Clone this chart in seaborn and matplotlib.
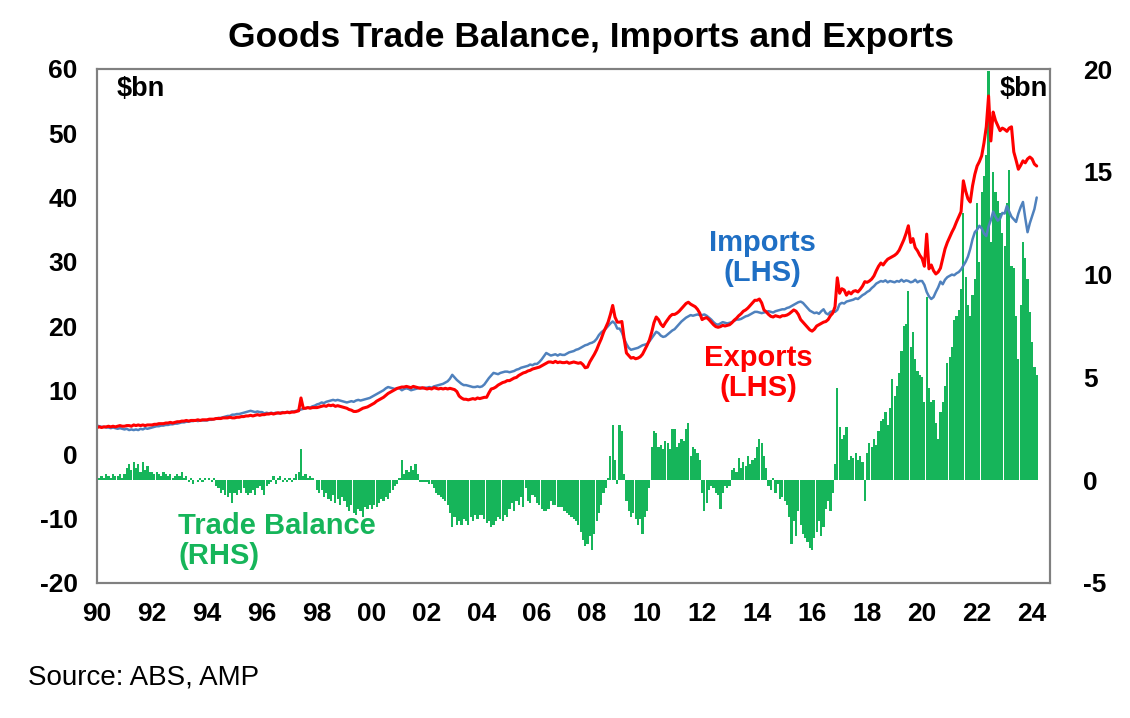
import matplotlib
matplotlib.use("Agg")
import matplotlib.pyplot as plt
import numpy as np
import pandas as pd
import seaborn as sns

# monthly data, Jan 1990 - Mar 2024, $bn
exports = [
    4.2, 4.3, 4.2, 4.3, 4.3, 4.4, 4.3, 4.4, 4.3, 4.4, 4.5, 4.4,
    4.4, 4.5, 4.5, 4.4, 4.6, 4.5, 4.6, 4.5, 4.6, 4.5, 4.6, 4.6,
    4.6, 4.7, 4.7, 4.8, 4.8, 4.8, 4.9, 4.9, 5.0, 4.9, 5.0, 5.1,
    5.1, 5.2, 5.2, 5.3, 5.2, 5.3, 5.3, 5.3, 5.4, 5.3, 5.4, 5.4,
    5.4, 5.5, 5.5, 5.5, 5.6, 5.6, 5.6, 5.7, 5.7, 5.7, 5.8, 5.7,
    5.7, 5.8, 5.8, 5.9, 5.9, 6.0, 6.0, 6.1, 6.0, 6.1, 6.2, 6.1,
    6.2, 6.2, 6.3, 6.3, 6.4, 6.3, 6.4, 6.5, 6.4, 6.5, 6.5, 6.6,
    6.5, 6.6, 6.6, 6.7, 6.8, 8.8, 7.2, 7.2, 7.3, 7.2, 7.3, 7.3,
    7.3, 7.4, 7.5, 7.6, 7.5, 7.7, 7.6, 7.7, 7.5, 7.6, 7.5, 7.4,
    7.3, 7.2, 7.0, 6.9, 6.7, 6.7, 6.8, 7.0, 7.2, 7.3, 7.4, 7.6,
    7.8, 8.0, 8.3, 8.5, 8.7, 8.9, 9.2, 9.5, 9.7, 9.9, 10.1, 10.3,
    10.4, 10.5, 10.5, 10.6, 10.5, 10.4, 10.6, 10.5, 10.4, 10.3, 10.4, 10.3,
    10.2, 10.3, 10.2, 10.4, 10.3, 10.2, 10.3, 10.2, 10.3, 10.2, 10.3, 10.2,
    10.1, 9.8, 9.1, 8.8, 8.6, 8.6, 8.5, 8.6, 8.7, 8.6, 8.8, 8.7,
    8.8, 8.9, 8.9, 9.6, 10.2, 10.3, 10.5, 10.8, 11.0, 11.2, 11.3, 11.5,
    11.5, 11.7, 11.9, 12.0, 12.3, 12.5, 12.7, 12.8, 13.0, 13.1, 13.3, 13.4,
    13.5, 13.6, 13.8, 14.0, 14.2, 14.4, 14.4, 14.3, 14.5, 14.3, 14.4, 14.3,
    14.3, 14.4, 14.2, 14.3, 14.4, 14.3, 14.2, 14.3, 14.0, 13.5, 13.6, 14.4,
    15.0, 15.6, 16.3, 17.2, 18.0, 19.0, 19.8, 20.6, 21.8, 23.2, 21.4, 20.6,
    20.6, 20.7, 18.0, 15.8, 15.4, 15.0, 15.1, 14.9, 15.0, 15.2, 15.6, 16.3,
    17.0, 17.8, 19.0, 20.5, 21.4, 21.0, 20.3, 19.9, 20.5, 21.0, 21.5, 21.8,
    21.8, 22.0, 22.3, 22.7, 23.1, 23.5, 23.7, 23.4, 23.2, 23.0, 22.6, 22.0,
    21.0, 21.2, 21.3, 21.0, 20.6, 20.2, 19.9, 19.8, 19.9, 20.1, 20.0, 20.1,
    20.2, 20.5, 20.9, 21.2, 21.6, 21.9, 22.3, 22.5, 22.8, 23.2, 23.6, 24.0,
    24.0, 24.2, 23.6, 22.5, 22.2, 21.8, 21.5, 21.4, 21.6, 21.5, 21.4, 21.6,
    21.6, 21.7, 21.9, 22.2, 22.5, 22.3, 21.8, 21.0, 20.6, 20.2, 19.8, 19.4,
    19.2, 19.5, 20.0, 20.2, 20.4, 20.6, 20.7, 21.0, 21.6, 22.0, 23.0, 27.5,
    25.1, 25.8, 25.6, 24.8, 25.3, 25.0, 25.4, 25.5, 25.3, 25.7, 26.2, 26.9,
    26.8, 27.0, 27.3, 27.8, 28.6, 29.3, 29.8, 29.5, 30.0, 30.4, 30.6, 30.8,
    31.0, 31.3, 31.8, 32.6, 33.4, 34.4, 35.6, 33.0, 33.6, 32.2, 31.7, 31.0,
    30.5, 29.3, 34.3, 28.9, 29.5, 28.6, 28.1, 28.4, 29.0, 30.5, 32.0, 33.0,
    33.8, 34.6, 35.3, 36.2, 37.0, 37.8, 42.6, 41.0, 39.8, 39.3, 41.8, 43.6,
    44.9, 45.6, 46.5, 48.5, 51.0, 55.8, 48.8, 53.3, 52.0, 51.2, 50.4, 50.8,
    50.6, 50.3, 50.8, 51.0, 47.1, 45.8, 44.4, 45.0, 45.7, 45.4, 46.0, 46.3,
    46.0, 45.2, 44.9,
]

imports = [
    4.5, 4.4, 4.3, 4.3, 4.2, 4.2, 4.1, 4.2, 4.1, 4.0, 4.1, 4.0,
    3.9, 4.0, 3.8, 3.9, 3.8, 3.9, 3.8, 4.0, 3.9, 4.1, 4.0, 4.1,
    4.2, 4.3, 4.4, 4.4, 4.5, 4.5, 4.6, 4.6, 4.7, 4.7, 4.8, 4.8,
    4.9, 5.0, 5.0, 5.1, 5.1, 5.2, 5.2, 5.3, 5.2, 5.3, 5.3, 5.3,
    5.3, 5.4, 5.4, 5.5, 5.6, 5.7, 5.7, 5.8, 5.9, 6.0, 6.0, 6.2,
    6.2, 6.3, 6.3, 6.4, 6.5, 6.6, 6.7, 6.8, 6.7, 6.6, 6.7, 6.6,
    6.6, 6.4, 6.5, 6.4, 6.5, 6.4, 6.5, 6.4, 6.5, 6.6, 6.5, 6.6,
    6.6, 6.7, 6.7, 6.8, 6.9, 7.0, 7.1, 7.2, 7.3, 7.3, 7.5, 7.6,
    7.8, 7.9, 8.1, 8.0, 8.2, 8.3, 8.4, 8.5, 8.4, 8.5, 8.4, 8.3,
    8.2, 8.1, 8.2, 8.3, 8.2, 8.4, 8.5, 8.4, 8.5, 8.6, 8.7, 8.8,
    9.0, 9.2, 9.4, 9.6, 9.8, 10.0, 10.3, 10.5, 10.4, 10.3, 10.2, 10.3,
    10.3, 10.0, 10.2, 10.3, 10.2, 10.0, 10.1, 10.2, 10.3, 10.4, 10.3, 10.4,
    10.4, 10.5, 10.4, 10.6, 10.7, 10.8, 10.9, 11.0, 11.2, 11.4, 11.8, 12.4,
    12.0, 11.6, 11.3, 11.0, 10.8, 10.8, 10.7, 10.6, 10.5, 10.5, 10.6, 10.5,
    10.6, 10.9, 11.4, 11.9, 12.3, 12.7, 12.6, 12.5, 12.7, 12.8, 12.9, 12.9,
    12.8, 12.9, 13.0, 13.2, 13.3, 13.5, 13.6, 13.7, 13.8, 14.0, 13.9, 14.1,
    14.1, 14.4, 14.8, 15.3, 15.8, 15.6, 15.4, 15.5, 15.6, 15.4, 15.6, 15.5,
    15.5, 15.7, 15.9, 16.0, 16.1, 16.3, 16.4, 16.6, 16.8, 17.0, 17.1, 17.3,
    17.4, 17.6, 18.0, 18.6, 19.0, 19.3, 19.6, 20.0, 20.4, 20.7, 20.4, 19.6,
    19.6, 19.0, 18.0, 17.2, 16.6, 16.3, 16.4, 16.5, 16.6, 16.8, 17.0, 17.1,
    17.2, 17.6, 18.1, 18.6, 19.1, 18.9, 18.5, 18.3, 18.4, 18.7, 19.0, 19.3,
    19.5, 19.9, 20.3, 20.7, 21.0, 21.3, 21.5, 21.7, 21.6, 21.7, 21.8, 21.7,
    21.7, 21.8, 21.6, 21.3, 21.0, 20.6, 20.3, 20.2, 20.4, 20.6, 20.5, 20.4,
    20.5, 20.6, 20.8, 21.0, 21.0, 21.1, 21.3, 21.5, 21.6, 21.8, 22.0, 22.2,
    22.2, 22.1, 22.0, 22.1, 22.2, 22.3, 22.2, 22.1, 22.3, 22.4, 22.5, 22.6,
    22.6, 22.8, 22.9, 23.1, 23.3, 23.5, 23.7, 23.8, 23.6, 23.2, 22.8, 22.4,
    22.2, 22.0, 22.1, 21.9, 22.3, 22.6, 22.0, 21.8, 22.2, 22.3, 22.2, 22.5,
    23.4, 23.6, 23.5, 23.8, 23.9, 24.0, 24.1, 24.3, 24.2, 24.5, 24.8, 25.0,
    25.3, 25.5, 25.9, 26.2, 26.6, 26.8, 27.0, 26.9, 27.1, 26.8, 27.0, 26.9,
    26.8, 27.0, 26.9, 27.2, 26.9, 27.1, 27.0, 26.8, 26.9, 27.2, 26.8, 27.0,
    27.0, 26.4, 25.3, 24.6, 24.2, 24.5, 25.3, 26.0, 26.9, 26.5, 27.2, 27.6,
    27.8, 28.0, 27.9, 28.2, 28.4, 28.8, 29.4, 30.0, 30.8, 32.0, 33.5, 34.6,
    35.0, 35.6, 35.2, 34.4, 34.0, 35.5, 36.5, 37.8, 37.0, 36.4, 36.7, 37.6,
    37.5, 38.7, 37.8, 37.0, 36.6, 36.2, 37.5, 38.5, 39.3, 36.8, 34.6, 36.0,
    37.1, 38.2, 40.0,
]

balance = [
    -0.6, 0.1, 0.2, 0.1, 0.3, 0.2, 0.1, 0.3, 0.2, 0.2, 0.3, 0.1,
    0.3, 0.6, 0.8, 0.5, 0.9, 0.6, 0.8, 0.4, 0.9, 0.5, 0.7, 0.4,
    0.4, 0.3, 0.4, 0.3, 0.2, 0.4, 0.3, 0.2, 0.3, 0.1, 0.2, 0.3,
    0.2, 0.4, 0.1, 0.2, -0.1, 0.1, -0.2, 0.0, -0.1, 0.1, -0.1, 0.1,
    0.0, 0.1, -0.1, 0.1, -0.3, -0.4, -0.6, -0.5, -0.7, -0.8, -0.6, -1.1,
    -0.6, -0.7, -0.5, -0.6, -0.4, -0.6, -0.7, -0.6, -0.5, -0.7, -0.4, -0.3,
    -0.5, -0.7, -0.3, -0.2, -0.1, 0.2, -0.2, 0.1, 0.2, -0.1, 0.1, -0.1,
    0.1, -0.1, 0.1, 0.3, 0.4, 1.5, 0.2, 0.3, 0.1, 0.2, 0.1, 0.0,
    -0.5, -0.6, -0.5, -0.8, -0.6, -0.9, -1.0, -0.7, -1.1, -0.9, -1.2, -0.8,
    -1.0, -1.3, -1.5, -1.2, -1.6, -1.7, -1.4, -1.5, -1.8, -1.3, -1.4, -1.2,
    -1.4, -1.2, -1.3, -1.1, -0.9, -1.0, -0.8, -0.9, -0.6, -0.5, -0.3, -0.2,
    0.1, 1.0, 0.3, 0.5, 0.4, 0.7, 0.5, 0.8, 0.3, -0.1, -0.1, -0.1,
    -0.1, -0.2, -0.2, -0.4, -0.6, -0.7, -0.8, -0.9, -1.0, -1.2, -1.6, -2.3,
    -1.8, -2.2, -2.0, -2.2, -1.9, -2.0, -2.2, -1.8, -2.0, -1.7, -1.9, -1.7,
    -1.7, -1.9, -2.1, -2.0, -2.3, -2.2, -2.0, -1.8, -1.9, -2.0, -1.7, -1.8,
    -1.4, -1.1, -1.5, -1.0, -1.2, -0.8, -1.3, -0.4, -1.0, -1.1, -0.7, -0.8,
    -1.1, -1.2, -1.4, -1.5, -1.5, -1.4, -1.0, -1.2, -1.2, -1.3, -1.3, -1.3,
    -1.5, -1.6, -1.7, -1.8, -1.9, -2.0, -2.2, -2.5, -2.9, -3.2, -3.1, -2.7,
    -3.4, -2.6, -2.0, -1.6, -1.2, -0.6, -0.4, 0.1, 1.2, 2.7, 1.0, -0.2,
    2.7, 2.4, 0.3, -1.0, -1.5, -1.8, -1.6, -1.9, -2.2, -1.9, -2.6, -1.8,
    -1.5, -0.4, 1.6, 2.4, 2.3, 1.6, 1.7, 1.5, 1.9, 1.8, 1.5, 2.5,
    2.5, 1.6, 1.8, 2.0, 1.9, 2.5, 2.8, 1.2, 1.6, 1.5, 1.3, 1.0,
    -0.6, -1.5, -1.1, -0.5, -0.3, -0.4, -0.6, -0.7, -1.4, -0.6, -0.3, -0.4,
    -0.3, 0.5, 0.6, 0.4, 1.1, 0.6, 0.9, 0.7, 1.2, 0.8, 1.0, 1.1,
    1.6, 2.0, 1.8, 1.2, 0.6, -0.3, -0.5, 0.1, -0.6, -0.2, -0.9, -0.8,
    -1.0, -1.2, -1.8, -3.1, -2.0, -2.7, -1.5, -2.2, -2.6, -2.8, -3.0, -3.3,
    -3.4, -2.8, -2.5, -2.0, -2.7, -2.3, -1.4, -1.0, -1.5, -0.6, 0.8, 4.5,
    2.6, 2.0, 2.2, 2.6, 1.0, 1.2, 1.1, 1.3, 1.0, 1.2, 0.9, -1.0,
    1.3, 1.8, 1.6, 2.0, 1.7, 2.4, 2.9, 3.0, 3.3, 2.7, 3.5, 4.9,
    4.1, 4.6, 5.2, 6.3, 7.5, 7.6, 9.2, 6.5, 7.2, 5.9, 5.3, 5.1,
    5.0, 3.8, 8.9, 4.5, 3.8, 3.9, 2.8, 2.0, 3.3, 3.8, 4.6, 5.7,
    6.0, 6.5, 7.8, 8.0, 8.3, 9.3, 13.0, 9.9, 8.5, 8.0, 9.0, 9.8,
    13.5, 10.6, 14.0, 14.8, 15.8, 19.9, 11.6, 15.0, 14.0, 13.6, 13.0, 12.0,
    11.4, 13.5, 15.1, 10.4, 10.3, 8.0, 5.9, 8.5, 11.6, 10.8, 9.8, 8.2,
    6.7, 5.5, 5.1,
]

year_ticks = list(range(1990, 2025, 2))
year_labels = [f"{y % 100:02d}" for y in year_ticks]

months = pd.date_range("1990-01-01", periods=len(exports), freq="MS")
df = pd.DataFrame({
    "t": months.year + (months.month - 1) / 12,
    "exports": exports,
    "imports": imports,
    "balance": balance,
})

sns.set_style("white")
plt.rcParams["font.family"] = ["Liberation Sans", "DejaVu Sans"]
plt.rcParams["axes.unicode_minus"] = False
plt.rcParams["text.color"] = "black"
plt.rcParams["xtick.color"] = "black"
plt.rcParams["ytick.color"] = "black"

RED = "#ff0000"
BLUE = "#4f81bd"
BLUE_TXT = "#1f6fc4"
GREEN = "#16b55a"
GREY = "#808080"

fig = plt.figure(figsize=(11.3, 7.18), dpi=100)
W, H = 1130, 718
ax = fig.add_axes([97 / W, (H - 583) / H, (1050 - 97) / W, (583 - 69) / H])
ax2 = ax.twinx()

# trade balance bars on the right axis
sns.barplot(data=df, x="t", y="balance", native_scale=True, ax=ax2,
            color=GREEN, saturation=1, errorbar=None, width=0.95,
            linewidth=0)

# imports and exports on the left axis
sns.lineplot(data=df, x="t", y="imports", ax=ax, color=BLUE, lw=1.8)
sns.lineplot(data=df, x="t", y="exports", ax=ax, color=RED, lw=2.2)

ax.set_zorder(ax2.get_zorder() + 1)
ax.patch.set_visible(False)

ax.set_xlim(1990, 2024.65)
ax.set_ylim(-20, 60)
ax2.set_ylim(-5, 20)
ax.set_yticks(range(-20, 61, 10))
ax2.set_yticks(range(-5, 21, 5))
ax.set_xticks(year_ticks)
ax.set_xticklabels(year_labels)
for a in (ax, ax2):
    a.set_xlabel("")
    a.set_ylabel("")
    for s in a.spines.values():
        s.set_color(GREY)
        s.set_linewidth(1.5)
        s.set_visible(True)

ax.tick_params(axis="x", direction="out", length=6, width=1.3, color=GREY,
               pad=8, labelsize=19)
ax.tick_params(axis="y", length=0, pad=14, labelsize=19)
ax2.tick_params(axis="y", length=0, pad=24, labelsize=19)
for lab in ax.get_xticklabels() + ax.get_yticklabels() + ax2.get_yticklabels():
    lab.set_fontweight("bold")

# texts
fig.text(591 / W, 1 - 37 / H, "Goods Trade Balance, Imports and Exports",
         ha="center", va="center", fontsize=25.5, fontweight="bold")
fig.text(117 / W, 1 - 89 / H, "$bn", ha="left", va="center",
         fontsize=19.5, fontweight="bold")
fig.text(1048 / W, 1 - 89 / H, "$bn", ha="right", va="center",
         fontsize=19.5, fontweight="bold")
fig.text(762 / W, 1 - 258 / H, "Imports\n(LHS)", ha="center", va="center",
         fontsize=21, fontweight="bold", color=BLUE_TXT, linespacing=1.05)
fig.text(758 / W, 1 - 373 / H, "Exports\n(LHS)", ha="center", va="center",
         fontsize=21, fontweight="bold", color=RED, linespacing=1.05)
fig.text(178 / W, 1 - 541 / H, "Trade Balance\n(RHS)", ha="left", va="center",
         fontsize=21, fontweight="bold", color=GREEN, linespacing=1.05,
         multialignment="left")
fig.text(28 / W, 1 - 678 / H, "Source: ABS, AMP", ha="left", va="center",
         fontsize=20)

fig.savefig("out.png", dpi=100)
